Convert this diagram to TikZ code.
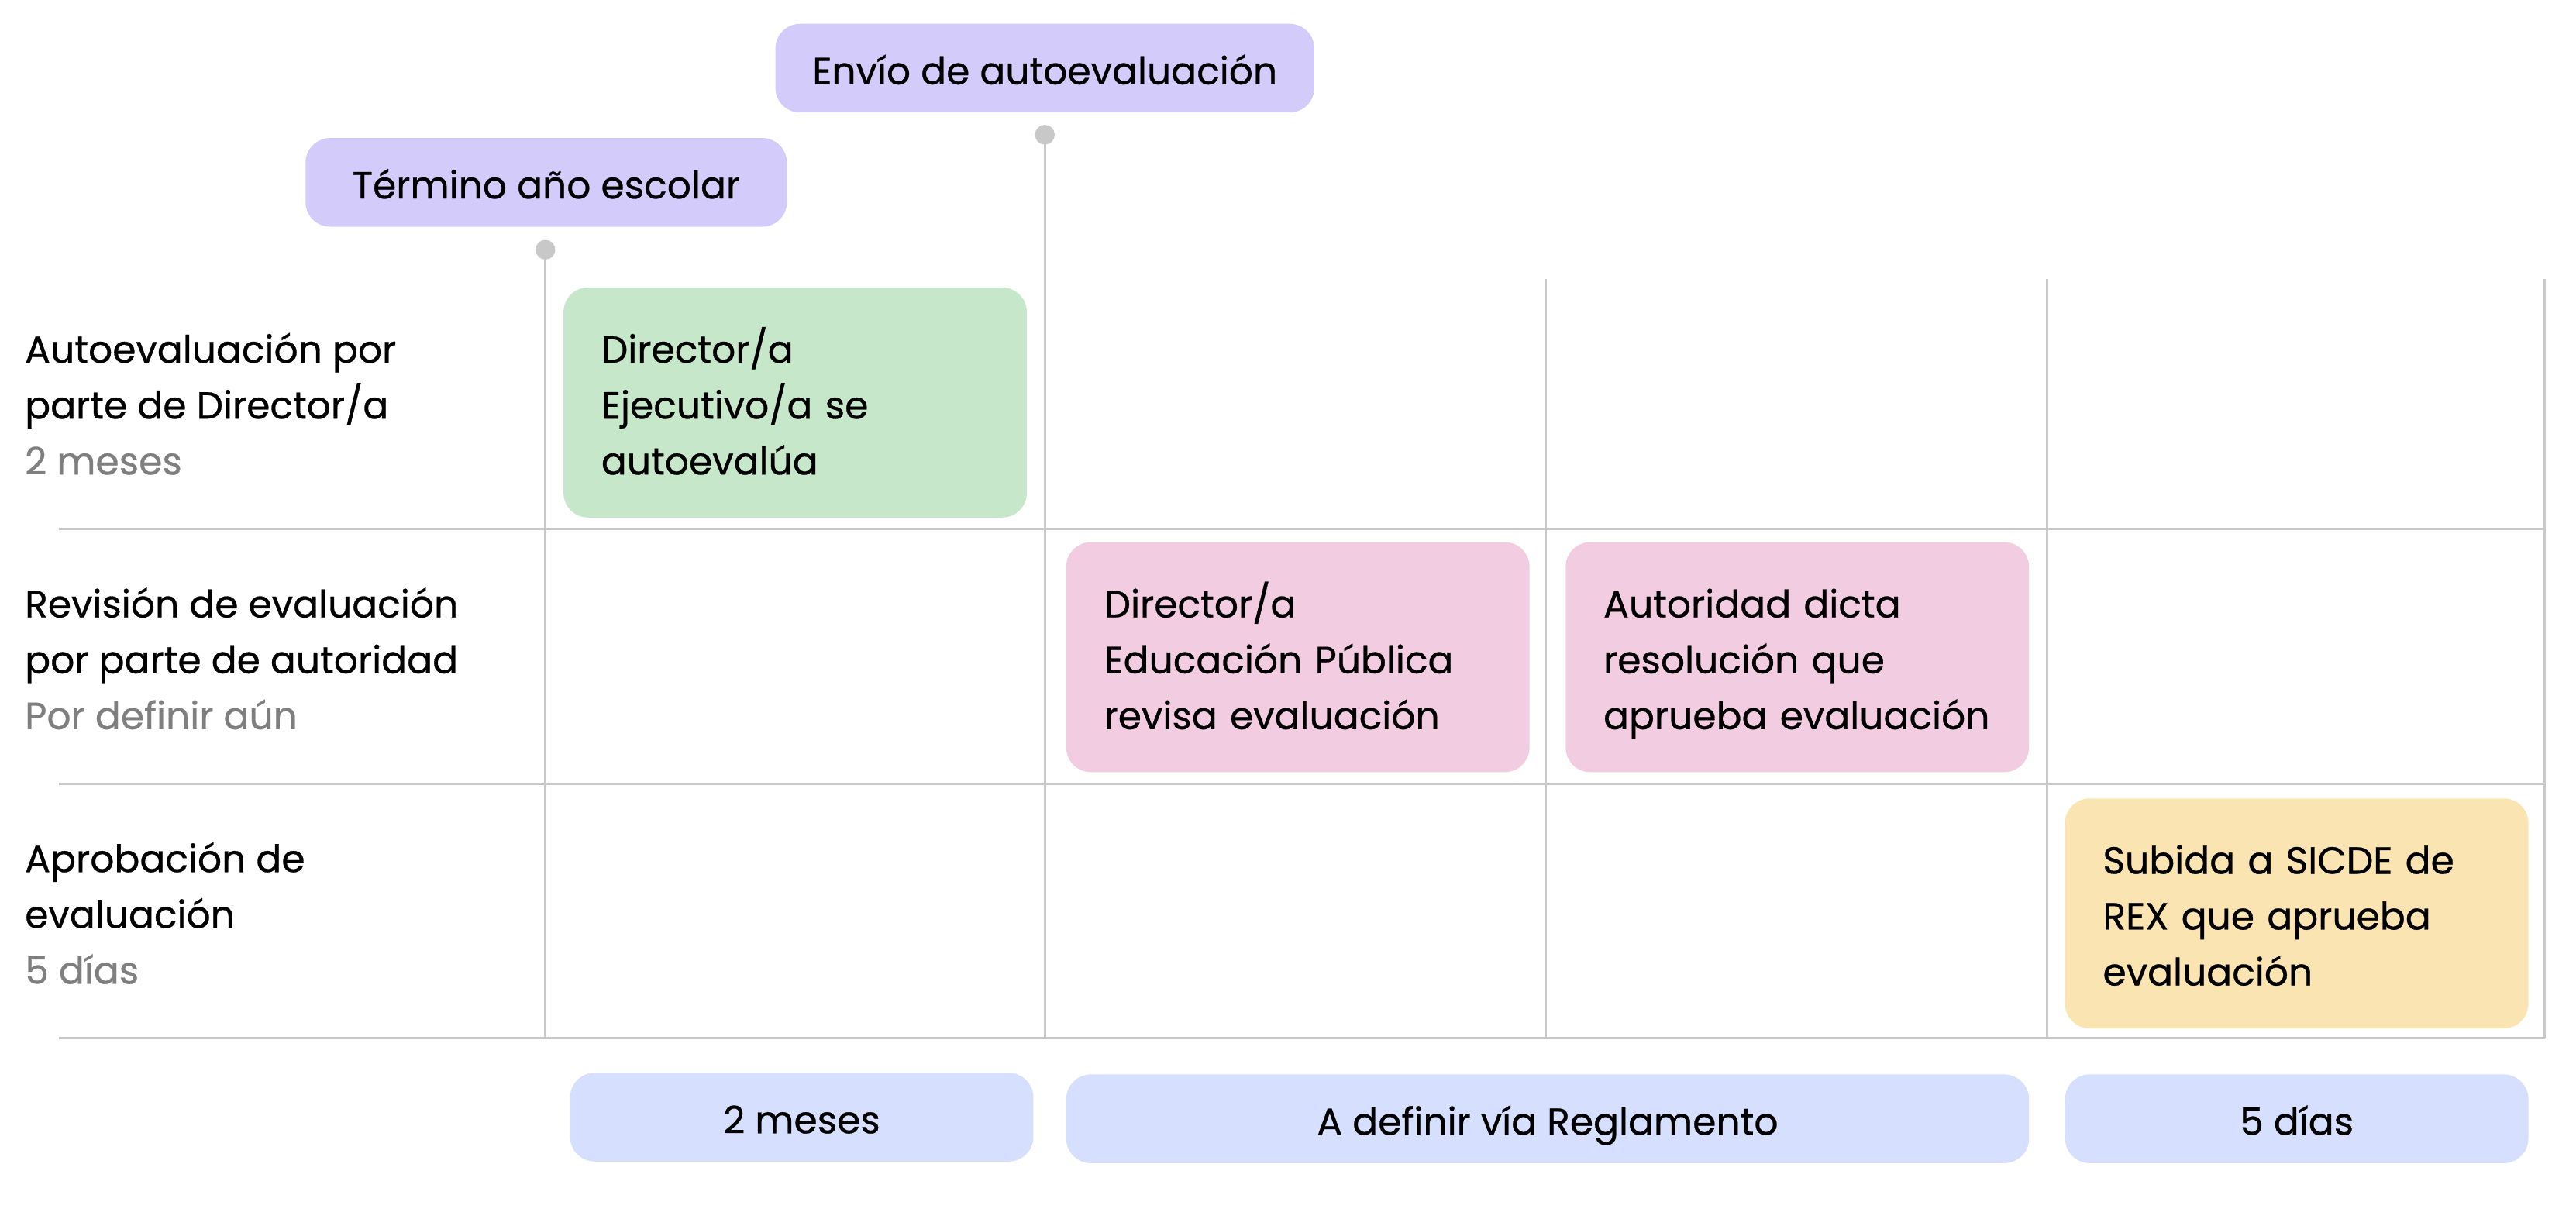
\documentclass[tikz,border=0pt]{standalone}
\usepackage{fontspec}
\setmainfont{Poppins}[FakeBold=0.6]
\definecolor{cpurple}{HTML}{D3CCFA}
\definecolor{cgreen}{HTML}{C6E7C9}
\definecolor{cpink}{HTML}{F2CCE0}
\definecolor{cyellow}{HTML}{F9E4B2}
\definecolor{cblue}{HTML}{D6DFFD}
\definecolor{cgrid}{HTML}{C8C8C8}
\definecolor{txtgray}{HTML}{7F7F7F}
\newcommand{\sline}[1]{\rule[-7.2pt]{0pt}{34pt}#1}
\begin{document}
\begin{tikzpicture}[x=1pt,y=-1pt,
  txt/.style={font=\fontsize{23}{34}\selectfont},
  pill/.style={txt, rounded corners=15pt, inner sep=0pt, minimum height=54pt, align=center},
  task/.style={txt, rounded corners=15pt, inner xsep=23pt, inner ysep=0pt, minimum height=140pt, text width=236pt, align=left},
  lbl/.style={txt, inner sep=0pt, anchor=west, align=left},
  grid/.style={draw=cgrid, line width=1.4pt},
  dotm/.style={circle, fill=cgrid, inner sep=0pt, minimum size=12pt}]
\useasboundingbox (0,0) rectangle (1568,745.8);
% grid lines
\coordinate (h1a) at (36,322); \coordinate (h1b) at (1549,322);
\coordinate (h2a) at (36,477); \coordinate (h2b) at (1549,477);
\coordinate (h3a) at (36,632); \coordinate (h3b) at (1549,632);
\draw[grid] (h1a) -- (h1b);
\draw[grid] (h2a) -- (h2b);
\draw[grid] (h3a) -- (h3b);
\coordinate (v3a) at (941,170); \coordinate (v3b) at (941,632);
\coordinate (v4a) at (1246,170); \coordinate (v4b) at (1246,632);
\coordinate (v5a) at (1549,170); \coordinate (v5b) at (1549,632);
\draw[grid] (v3a) -- (v3b);
\draw[grid] (v4a) -- (v4b);
\draw[grid] (v5a) -- (v5b);
% milestone lines
\node[dotm] (d1) at (332,152) {};
\node[dotm] (d2) at (636,82) {};
\coordinate (v1b) at (332,632);
\coordinate (v2b) at (636,632);
\draw[grid] (d1.center) -- (v1b);
\draw[grid] (d2.center) -- (v2b);
% milestones
\node[pill, fill=cpurple, minimum width=293pt] (m1) at (332.5,111) {\sline{Término año escolar}};
\node[pill, fill=cpurple, minimum width=328pt] (m2) at (636,41.5) {\sline{Envío de autoevaluación}};
% row labels
\node[lbl] (r1) at (15,245) {\sline{Autoevaluación por}\\\sline{parte de Director/a}\\\sline{\textcolor{txtgray}{2 meses}}};
\node[lbl] (r2) at (15,400) {\sline{Revisión de evaluación}\\\sline{por parte de autoridad}\\\sline{\textcolor{txtgray}{Por definir aún}}};
\node[lbl] (r3) at (15,555) {\sline{Aprobación de}\\\sline{evaluación}\\\sline{\textcolor{txtgray}{5 días}}};
% tasks
\node[task, fill=cgreen] (t1) at (484,245) {\sline{Director/a}\\\sline{Ejecutivo/a se}\\\sline{autoevalúa}};
\node[task, fill=cpink] (t2) at (790,400) {\sline{Director/a}\\\sline{Educación Pública}\\\sline{revisa evaluación}};
\node[task, fill=cpink] (t3) at (1094,400) {\sline{Autoridad dicta}\\\sline{resolución que}\\\sline{aprueba evaluación}};
\node[task, fill=cyellow] (t4) at (1398,556) {\sline{Subida a SICDE de}\\\sline{REX que aprueba}\\\sline{evaluación}};
% durations
\node[pill, fill=cblue, minimum width=282pt] (p1) at (488,680) {\sline{2 meses}};
\node[pill, fill=cblue, minimum width=586pt] (p2) at (942,681) {\sline{A definir vía Reglamento}};
\node[pill, fill=cblue, minimum width=282pt] (p3) at (1398,681) {\sline{5 días}};
\end{tikzpicture}
\end{document}
